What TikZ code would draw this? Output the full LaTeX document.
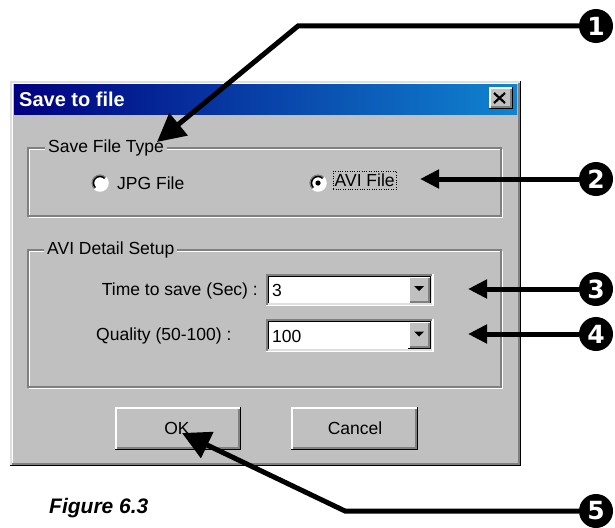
\documentclass[tikz,border=0pt]{standalone}
\usepackage{fontspec}
\setmainfont{Liberation Sans}
\newfontfamily\numfont{DejaVu Sans}
\usetikzlibrary{arrows.meta}
\definecolor{winface}{RGB}{192,192,192}
\definecolor{winshadow}{RGB}{128,128,128}
\definecolor{winlight}{RGB}{223,223,223}
\definecolor{titledark}{RGB}{0,0,128}
\definecolor{titlelight}{RGB}{16,132,208}
\begin{document}
\begin{tikzpicture}[x=1pt, y=-1pt,
    dlgtext/.style={font=\fontsize{17.5}{20}\selectfont, inner sep=0pt},
    grouplabel/.style={dlgtext, fill=winface, inner xsep=3pt, anchor=west},
    edge/.style={line width=1.5pt},
    callout/.style={line width=5pt, -{Triangle[length=28pt, width=28pt]}},
    callsmall/.style={line width=5pt, -{Triangle[length=19pt, width=18pt]}},
    num/.style={circle, fill=black, text=white, minimum size=34pt, inner sep=0pt,
        font=\fontsize{25}{25}\numfont\bfseries\selectfont}]
    \useasboundingbox (0,0) rectangle (615,527);
    % window
    \fill[winface] (10,81) rectangle (521,466);
    \draw[winlight, edge] (10.75,465) -- (10.75,81.75) -- (520,81.75);
    \draw[white, edge] (12.25,463.5) -- (12.25,83.25) -- (518.5,83.25);
    \draw[black, edge] (10,465.25) -- (520.25,465.25) -- (520.25,81);
    \draw[winshadow, edge] (11.5,463.75) -- (518.75,463.75) -- (518.75,82.5);
    \shade[left color=titledark, right color=titlelight] (14,84) rectangle (517,114);
    \node[anchor=west, text=white, inner sep=0pt, font=\fontsize{20}{22}\bfseries\selectfont] (title) at (19,99) {Save to file};
    % raised buttons
    \foreach \xa/\ya/\xb/\yb in {489/87/513/109, 115/407/241/450, 291/407/418/450, 408/276/431/304, 408/321/431/349} {
        \fill[winface] (\xa,\ya) rectangle (\xb,\yb);
        \draw[white, edge] (\xa+0.75,\yb-1.5) -- (\xa+0.75,\ya+0.75) -- (\xb-1.5,\ya+0.75);
        \draw[black, edge] (\xa,\yb-0.75) -- (\xb-0.75,\yb-0.75) -- (\xb-0.75,\ya);
        \draw[winshadow, edge] (\xa+1.5,\yb-2.25) -- (\xb-2.25,\yb-2.25) -- (\xb-2.25,\ya+1.5);
    }
    \draw[black, line width=2.2pt] (494,93) -- (505,103) (505,93) -- (494,103);
    % group boxes
    \foreach \ya/\yb in {148/216, 250/387} {
        \draw[white, edge] (29.5,\ya+1.5) rectangle (502.5,\yb+1.5);
        \draw[winshadow, edge] (28,\ya) rectangle (501,\yb);
    }
    \node[grouplabel] (typelabel) at (45,148) {Save File Type};
    \node[grouplabel] (setuplabel) at (44,250) {AVI Detail Setup};
    % radio buttons
    \foreach \cx in {100, 318} {
        \filldraw[fill=white, draw=white, edge] (\cx,183) circle (8);
        \draw[winshadow, edge] (\cx,183) ++(315:8) arc (315:135:8);
        \draw[black, edge] (\cx,183) ++(315:6.5) arc (315:135:6.5);
    }
    \fill[black] (318,183) circle (2.6);
    \node[dlgtext, anchor=west] (jpg) at (117,183) {JPG File};
    \node[dlgtext, anchor=west, draw=black, dotted, inner xsep=1.5pt, minimum height=18pt] (avi) at (333,180) {AVI File};
    % combo boxes
    \node[dlgtext, anchor=east] (timelabel) at (258,291) {Time to save (Sec) :};
    \node[dlgtext, anchor=west] (qualitylabel) at (96,336) {Quality (50-100) :};
    \foreach \ya/\yb/\val in {274/306/3, 319/352/100} {
        \fill[white] (266,\ya) rectangle (407.5,\yb);
        \draw[winshadow, edge] (266.75,\yb) -- (266.75,\ya+0.75) -- (433,\ya+0.75);
        \draw[black, edge] (268.25,\yb-1.5) -- (268.25,\ya+2.25) -- (431.5,\ya+2.25);
        \draw[white, edge] (266,\yb-0.75) -- (432.75,\yb-0.75) -- (432.75,\ya);
        \draw[winlight, edge] (267.5,\yb-2.25) -- (431.25,\yb-2.25) -- (431.25,\ya+1.5);
        \node[dlgtext, anchor=west] (combo\ya) at (272,{(\ya+\yb)/2+0.5}) {\val};
        \fill[black] (414,{(\ya+\yb)/2-4}) -- (424,{(\ya+\yb)/2-4}) -- (419,{(\ya+\yb)/2+1}) -- cycle;
    }
    % buttons
    \node[dlgtext] (ok) at (177,428) {OK};
    \node[dlgtext] (cancel) at (355,428) {Cancel};
    \node[anchor=west, inner sep=0pt, font=\fontsize{21}{23}\bfseries\itshape\selectfont] (caption) at (49,508) {Figure 6.3};
    % callouts
    \node[num] (n1) at (596,26) {1};
    \node[num] (n2) at (596,179) {2};
    \node[num] (n3) at (596,289) {3};
    \node[num] (n4) at (596,334) {4};
    \node[num] (n5) at (596,511) {5};
    \coordinate (bend1) at (298,26);
    \coordinate (tip1) at (157,142);
    \coordinate (tip2) at (420,179);
    \coordinate (tip3) at (468,289);
    \coordinate (tip4) at (468,334);
    \coordinate (bend5) at (345,511);
    \coordinate (tip5) at (182,433);
    \draw[callout] (n1) -- (bend1) -- (tip1);
    \draw[callsmall] (n2) -- (tip2);
    \draw[callsmall] (n3) -- (tip3);
    \draw[callsmall] (n4) -- (tip4);
    \draw[callout] (n5) -- (bend5) -- (tip5);
\end{tikzpicture}
\end{document}
